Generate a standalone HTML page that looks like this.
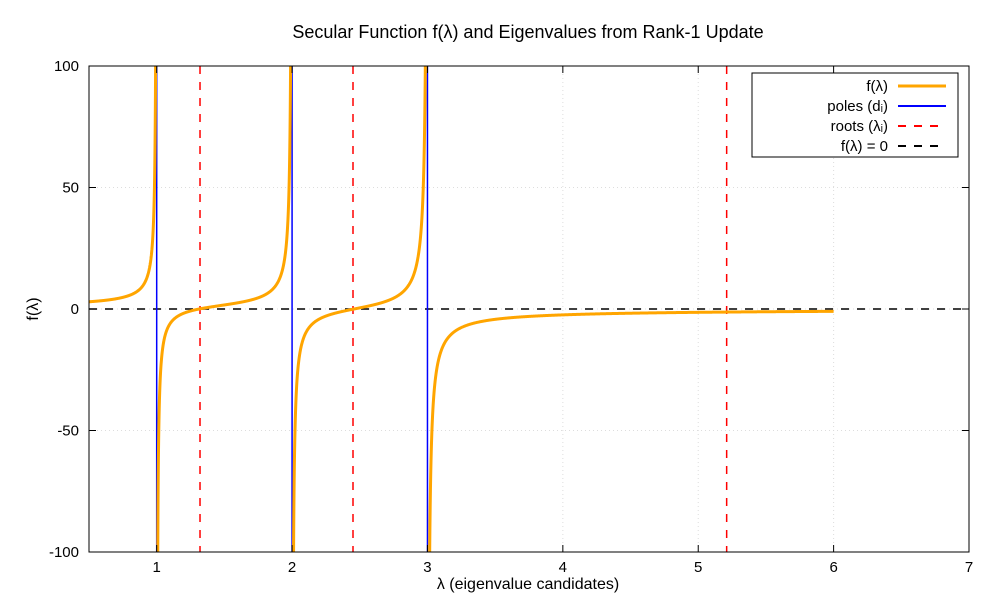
<!DOCTYPE html>
<html><head><meta charset="utf-8"><style>
html,body{margin:0;padding:0;background:#fff;overflow:hidden;width:1000px;height:600px}
svg{display:block}
svg text{font-family:"Liberation Sans",sans-serif}
</style></head><body>
<svg id="chart" width="1000" height="600" xmlns="http://www.w3.org/2000/svg">
<text x="528" y="38" font-size="18" text-anchor="middle">Secular Function f(λ) and Eigenvalues from Rank-1 Update</text>
<g id="grid"></g>
<g id="marks" clip-path="url(#clip)"></g>
<rect x="89" y="66" width="880" height="486" fill="none" stroke="#000" stroke-width="1"/>
<g id="axes"></g>
<text x="528" y="589" font-size="16" text-anchor="middle">λ (eigenvalue candidates)</text>
<text x="38" y="309" font-size="16" text-anchor="middle" transform="rotate(-90 38 309)">f(λ)</text>
<g>
<rect x="752" y="73" width="206" height="84" fill="#fff" stroke="#000"/>
<text x="888" y="91" font-size="15" text-anchor="end">f(λ)</text>
<line x1="898" y1="86" x2="946" y2="86" stroke="#ffa500" stroke-width="3"/>
<text x="888" y="111" font-size="15" text-anchor="end">poles (dᵢ)</text>
<line x1="898" y1="106" x2="946" y2="106" stroke="#0000ff" stroke-width="2"/>
<text x="888" y="131" font-size="15" text-anchor="end">roots (λᵢ)</text>
<line x1="898" y1="126" x2="946" y2="126" stroke="#ff0000" stroke-width="2" stroke-dasharray="8,8"/>
<text x="888" y="151" font-size="15" text-anchor="end">f(λ) = 0</text>
<line x1="898" y1="146" x2="946" y2="146" stroke="#000" stroke-width="2" stroke-dasharray="8,8"/>
</g>
<defs><clipPath id="clip"><rect x="89" y="66" width="880" height="486"/></clipPath></defs>
</svg>
<script>
const xTicks=[1,2,3,4,5,6,7];
const yTicks=[-100,-50,0,50,100];
const poles=[1,2,3];
const weights=[0.8,1.1,1.6];
const roots=[1.32,2.45,5.21];
const curveRange=[0.5,6];
const X0=89,X1=969,Y0=552,Y1=66,xmin=0.5,xmax=7,ymin=-100,ymax=100;
const sx=v=>X0+(v-xmin)/(xmax-xmin)*(X1-X0);
const sy=v=>Y0-(v-ymin)/(ymax-ymin)*(Y0-Y1);
const NS="http://www.w3.org/2000/svg";
function mk(t,a,p){const e=document.createElementNS(NS,t);for(const k in a)e.setAttribute(k,a[k]);p.appendChild(e);return e;}
const grid=document.getElementById('grid'),axes=document.getElementById('axes'),marks=document.getElementById('marks');
xTicks.forEach(t=>{const x=sx(t);
 const g=mk('line',{x1:x,x2:x,y1:Y1,y2:Y0,stroke:'#ddd','stroke-dasharray':'1,3'},grid);
 
 const a=mk('line',{x1:x,x2:x,y1:Y0,y2:Y0-7,stroke:'#000'},axes);
 
 const b=mk('line',{x1:x,x2:x,y1:Y1,y2:Y1+7,stroke:'#000'},axes);
 
 const l=mk('text',{x:x,y:Y0+20,'font-size':15,'text-anchor':'middle'},axes);l.textContent=t;
 });
yTicks.forEach(t=>{const y=sy(t);
 const g=mk('line',{x1:X0,x2:X1,y1:y,y2:y,stroke:'#ddd','stroke-dasharray':'1,3'},grid);
 
 const a=mk('line',{x1:X0,x2:X0+7,y1:y,y2:y,stroke:'#000'},axes);
 
 const b=mk('line',{x1:X1,x2:X1-7,y1:y,y2:y,stroke:'#000'},axes);
 
 const l=mk('text',{x:X0-10,y:y+5,'font-size':15,'text-anchor':'end'},axes);l.textContent=t;
 });
const z=mk('line',{x1:X0,x2:X1,y1:sy(0),y2:sy(0),stroke:'#000','stroke-width':1.5,'stroke-dasharray':'8,8'},marks);

roots.forEach(r=>{const e=mk('line',{x1:sx(r),x2:sx(r),y1:Y1,y2:Y0,stroke:'#ff0000','stroke-width':1.5,'stroke-dasharray':'8,8'},marks);
 });
poles.forEach(p=>{const e=mk('line',{x1:sx(p),x2:sx(p),y1:Y1,y2:Y0,stroke:'#0000ff','stroke-width':1.5},marks);
 });
function f(l){let s=0;for(let i=0;i<poles.length;i++)s+=weights[i]/(poles[i]-l);return s;}
const bounds=[curveRange[0],...poles,curveRange[1]];
for(let i=0;i<bounds.length-1;i++){
 const a=bounds[i],b=bounds[i+1];let pts=[];const N=1500;
 for(let k=0;k<=N;k++){const l=a+(b-a)*k/N;if(poles.some(p=>Math.abs(l-p)<1e-4))continue;
  let v=f(l);v=Math.max(-104,Math.min(104,v));pts.push(sx(l).toFixed(2)+','+sy(v).toFixed(2));}
 const e=mk('polyline',{points:pts.join(' '),fill:'none',stroke:'#ffa500','stroke-width':3},marks);
 }
</script>
</body></html>
